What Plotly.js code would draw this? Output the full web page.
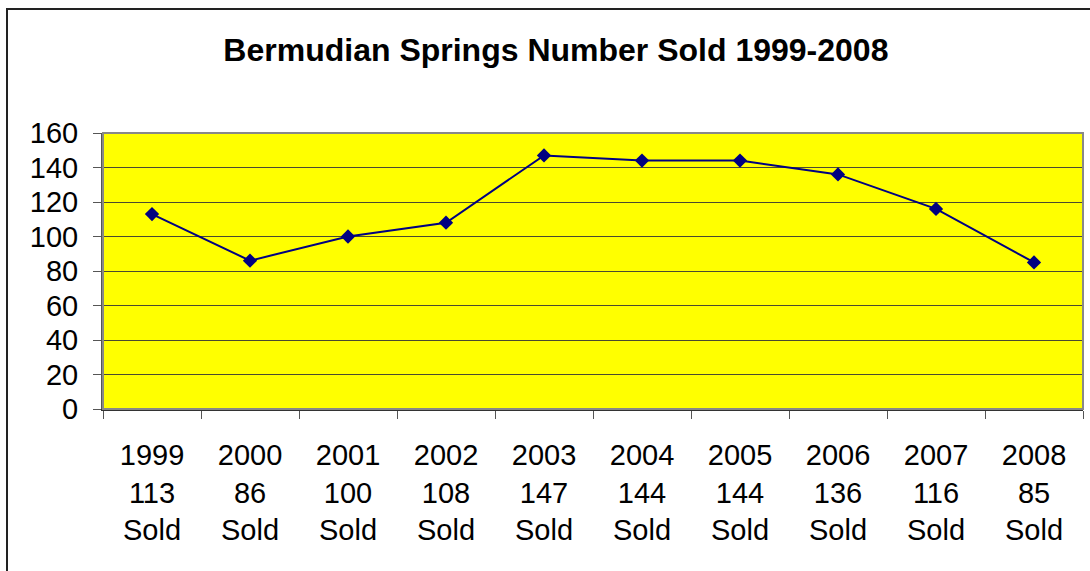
<!DOCTYPE html>
<html><head><meta charset="utf-8">
<script src="https://cdn.plot.ly/plotly-3.0.1.min.js"></script>
<style>html,body{margin:0;padding:0;background:#fff}#chart{width:1090px;height:571px}</style>
</head><body><div id="chart"></div>
<script>
const years = ["1999","2000","2001","2002","2003","2004","2005","2006","2007","2008"];
const sold = [113, 86, 100, 108, 147, 144, 144, 136, 116, 85];
const yTicks = [0,20,40,60,80,100,120,140,160];

const labels = years.map((y,i)=> y + "<br>" + sold[i] + "<br>Sold");

const W=1090,H=571,L=103,R=7,T=133,B=162;
const pw=W-L-R, ph=H-T-B;

Plotly.newPlot("chart", [{
  x: labels, y: sold, type: "scatter", mode: "lines+markers",
  line: {color: "#000080", width: 2},
  marker: {symbol: "diamond", size: 11, color: "#000080"},
  hoverinfo: "skip"
}], {
  width: W, height: H,
  margin: {l: L, r: R, t: T, b: B, pad: 0},
  paper_bgcolor: "#fff", plot_bgcolor: "#ffff00",
  font: {family: "Liberation Sans, Arial, sans-serif", color: "#000"},
  showlegend: false,
  title: {text: "<b>Bermudian Springs Number Sold 1999-2008</b>", font: {size: 32, color: "#000"}, x: 0.51, xanchor: "center", y: 1 - 50/H, yanchor: "middle"},
  xaxis: {
    type: "category", range: [-0.5, 9.5], tickson: "boundaries", ticks: "outside", ticklen: 8, tickcolor: "#555", tickwidth: 1,
    showline: true, linecolor: "#333", linewidth: 2, showgrid: false,
    tickfont: {size: 29}, ticklabelstandoff: 19, fixedrange: true
  },
  yaxis: {
    range: [0, 160], tickvals: yTicks, ticks: "outside", ticklen: 8, tickcolor: "#555", tickwidth: 1,
    showline: true, linecolor: "#555", linewidth: 2, showgrid: true, gridcolor: "#4a4a30", gridwidth: 1,
    zeroline: false, tickfont: {size: 29}, ticklabelstandoff: 9, fixedrange: true
  },
  shapes: [
    {type: "rect", xref: "paper", yref: "paper", x0: 0, x1: 1, y0: 0, y1: 1, line: {color: "#888", width: 2}, layer: "above"},
    {type: "rect", xref: "paper", yref: "paper", x0: (7-L)/pw, x1: (W+20-L)/pw, y0: -(B+20)/ph, y1: 1+(T-9)/ph, line: {color: "#222", width: 2}}
  ]
}, {staticPlot: true});
</script></body></html>
